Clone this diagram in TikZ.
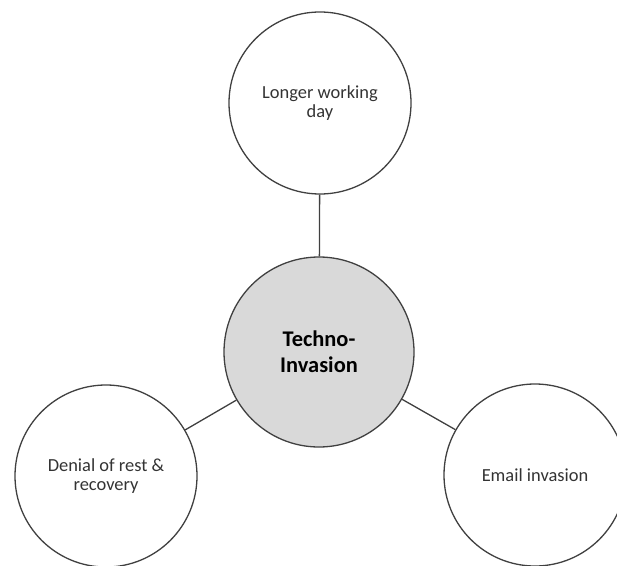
\documentclass[tikz,border=0pt]{standalone}
\usepackage{fontspec}
\setmainfont{Carlito}
\begin{document}
\begin{tikzpicture}[x=1bp, y=-1bp,
  bubble/.style={circle, draw=black!75, line width=1.3bp, inner sep=0pt,
    align=center, text=black!80, font=\fontsize{18.5}{19.5}\selectfont},
  hub/.style={bubble, fill=black!15, text=black,
    font=\fontsize{22.5}{26}\selectfont\bfseries},
  link/.style={draw=black!75, line width=1.3bp}]
  \useasboundingbox (0,0) rectangle (617,566);
  \clip (0,0) rectangle (617,566);
  % central hub and its three satellites
  \node[hub, minimum size=190bp] (hub) at (319,352) {Techno-\\Invasion};
  \node[bubble, minimum size=182bp] (day) at (320,103) {Longer working\\day};
  \node[bubble, minimum size=182bp] (rest) at (106,476) {Denial of rest \&\\recovery};
  \node[bubble, minimum size=182bp] (mail) at (535,475) {Email invasion};
  % spokes
  \draw[link] (hub) -- (day);
  \draw[link] (hub) -- (rest);
  \draw[link] (hub) -- (mail);
\end{tikzpicture}
\end{document}
